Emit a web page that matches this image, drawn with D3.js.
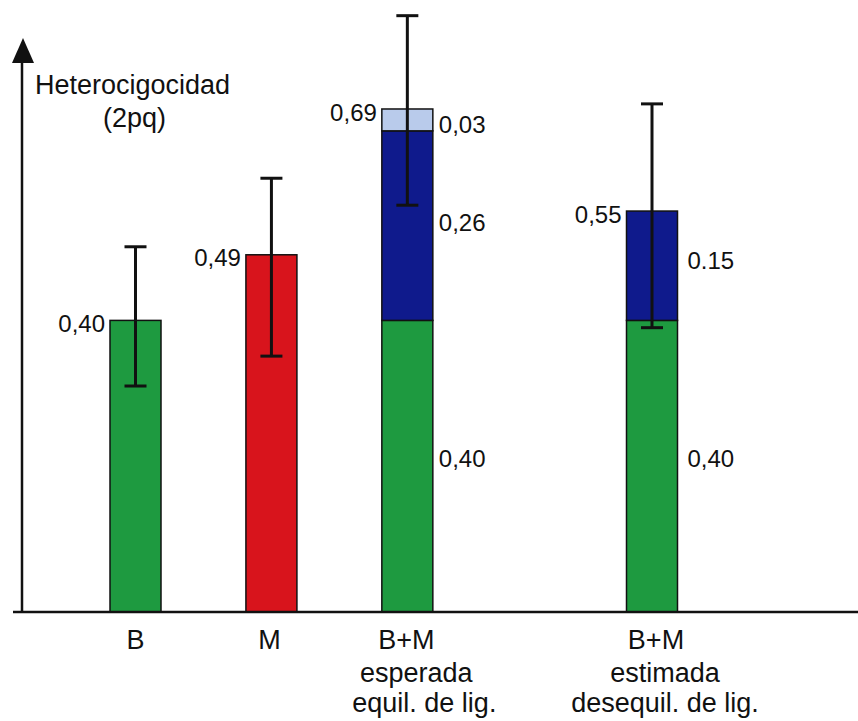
<!DOCTYPE html>
<html>
<head>
<meta charset="utf-8">
<script src="https://cdn.jsdelivr.net/npm/d3@7"></script>
<style>
  body { margin: 0; background: #fff; }
  text { font-family: "Liberation Sans", Arial, sans-serif; fill: #111; }
</style>
</head>
<body>
<div id="chart"></div>
<script>
// data
var categories = ["B", "M", "B+M esperada", "B+M estimada"];
var slots = [0, 1, 2, 3.8];                 // horizontal slot of each bar (gap before last one)
var xLabels = [["B"], ["M"], ["B+M", "esperada", "equil. de lig."], ["B+M", "estimada", "desequil. de lig."]];
var greenPart = [0.40, 0, 0.40, 0.40];
var redPart = [0, 0.49, 0, 0];
var navyPart = [0, 0, 0.26, 0.15];
var lightPart = [0, 0, 0.03, 0];
var totals = ["0,40", "0,49", "0,69", "0,55"];
var errLow = [0.310, 0.351, 0.558, 0.390];
var errHigh = [0.501, 0.595, 0.818, 0.697];
// segment labels: text and the level it sits at
var partLabels = [[], [], [["0,40", 0.211], ["0,26", 0.535], ["0,03", 0.669]], [["0,40", 0.211], ["0.15", 0.483]]];

var colors = {green: "#1e9a40", red: "#d8141c", navy: "#0f1a8c", light: "#b9cbeb"};

var W = 858, H = 721;
var baseY = 612;

var svg = d3.select("#chart").append("svg")
  .attr("width", W).attr("height", H);

var x = d3.scaleLinear().domain([0, 3.8]).range([135.5, 652]);
var y = d3.scaleLinear().domain([0, 0.8395]).range([baseY, 0]);
var barW = 51;

// stacked segments
var rows = categories.map(function (c, i) {
  return {cat: c, i: i, green: greenPart[i], red: redPart[i], navy: navyPart[i], light: lightPart[i]};
});
var stack = d3.stack().keys(["green", "red", "navy", "light"])(rows);

stack.forEach(function (layer) {
  svg.append("g")
    .selectAll("rect")
    .data(layer.filter(function (d) { return d[1] - d[0] > 0; }))
    .enter()
    .append("rect")
      .attr("x", function (d) { return x(slots[d.data.i]) - barW / 2; })
      .attr("y", function (d) { return y(d[1]); })
      .attr("width", barW)
      .attr("height", function (d) { return y(d[0]) - y(d[1]); })
      .style("fill", colors[layer.key])
      .style("stroke", "#111")
      .style("stroke-width", 1.5);
});

// error bars
var capW = 22;
var eb = svg.append("g").style("stroke", "#111").style("stroke-width", 3);
categories.forEach(function (c, i) {
  var cx = x(slots[i]);
  eb.append("line").attr("x1", cx).attr("x2", cx).attr("y1", y(errHigh[i])).attr("y2", y(errLow[i]));
  eb.append("line").attr("x1", cx - capW / 2).attr("x2", cx + capW / 2).attr("y1", y(errHigh[i])).attr("y2", y(errHigh[i]));
  eb.append("line").attr("x1", cx - capW / 2).attr("x2", cx + capW / 2).attr("y1", y(errLow[i])).attr("y2", y(errLow[i]));
});

// total value labels, left of each bar top
svg.append("g")
  .selectAll("text")
  .data(totals)
  .enter()
  .append("text")
    .attr("x", function (d, i) { return x(slots[i]) - barW / 2 - 5; })
    .attr("y", function (d, i) { return y(greenPart[i] + redPart[i] + navyPart[i] + lightPart[i]) + 3; })
    .attr("dy", "0.36em")
    .attr("text-anchor", "end")
    .style("font-size", "24px")
    .text(function (d) { return d; });

// segment labels, right of the stacked bars
partLabels.forEach(function (list, i) {
  list.forEach(function (p) {
    svg.append("text")
      .attr("x", x(slots[i]) + barW / 2 + (i === 3 ? 10 : 6))
      .attr("y", y(p[1]))
      .attr("dy", "0.36em")
      .style("font-size", "24px")
      .text(p[0]);
  });
});

// axes
svg.append("line")
  .attr("x1", 13).attr("x2", W).attr("y1", baseY).attr("y2", baseY)
  .style("stroke", "#111").style("stroke-width", 2.5);
svg.append("line")
  .attr("x1", 22).attr("x2", 22).attr("y1", 58).attr("y2", baseY)
  .style("stroke", "#111").style("stroke-width", 2.5);
svg.append("path")
  .attr("d", "M23,38 L12,63 L34,63 Z")
  .style("fill", "#111");

// y axis title
svg.append("text").attr("x", 35).attr("y", 94).style("font-size", "27px").text("Heterocigocidad");
svg.append("text").attr("x", 134.5).attr("y", 127).attr("text-anchor", "middle").style("font-size", "27px").text("(2pq)");

// category labels
var lineY = [649, 682, 712];
var lineShift = [[0, 0, 0], [-2, 0, 0], [-1, 9, 17], [4, 13, 13]];
xLabels.forEach(function (lines, i) {
  lines.forEach(function (t, j) {
    svg.append("text")
      .attr("x", x(slots[i]) + lineShift[i][j])
      .attr("y", lineY[j])
      .attr("text-anchor", "middle")
      .style("font-size", "27px")
      .text(t);
  });
});
</script>
</body>
</html>
